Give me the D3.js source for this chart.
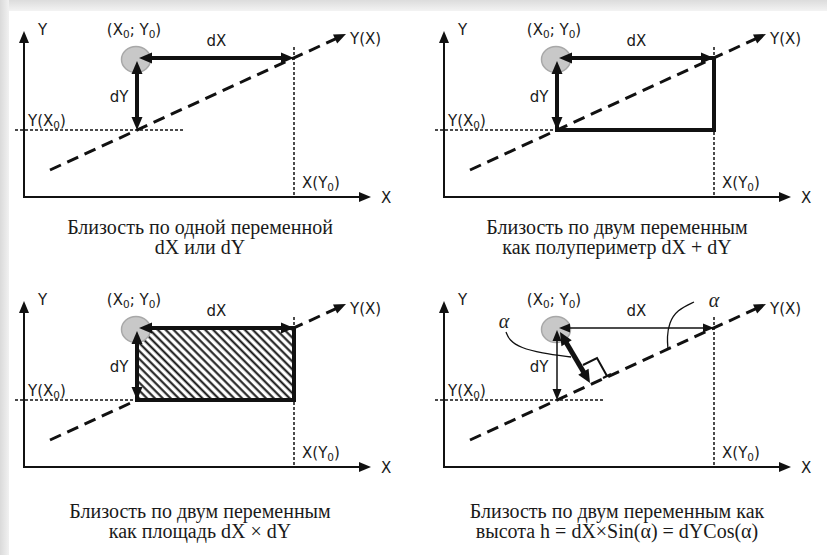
<!DOCTYPE html>
<html><head><meta charset="utf-8">
<script src="https://cdn.jsdelivr.net/npm/d3@7"></script>
<style>body{margin:0;background:#fff}svg{display:block}</style>
</head><body>
<svg id="c" width="827" height="555"></svg>
<script>
// ---------- data ----------
const panelModes = ["single", "perimeter", "area", "height"];
const panelShiftX = [0, 420, 0, 420];
const panelShiftY = [0, 0, 270, 270];
const axisDomainX = [0, 347];
const axisDomainY = [0, 166];
const point0 = [113, 139];          // (X0; Y0)
const yAtX0 = 67;                   // Y(X0)
const xAtY0 = 270;                  // X(Y0)
const trendLine = [[26, 27], [322, 163]];
const guideYExtent = [-9, 159];
const guideXTop = 150;
const hFoot = [146, 84];
const rightAngle = [[139, 102], [153, 109], [163, 91]];
const alphaArc1 = [[62, 135], [65, 127], [77, 119], [97, 114], [127, 110]];
const alphaArc2 = [[250, 165], [233, 157], [225, 144], [223, 130], [224, 118]];
const alphaSpots = [[60, 144], [270, 165]];
const axisNames = ["X", "Y"];
const pointName = "(X₀; Y₀)";
const deltaNames = ["dX", "dY"];
const guideNames = ["Y(X₀)", "X(Y₀)"];
const trendName = "Y(X)";
const captionLine1 = ["Близость по одной переменной", "Близость по двум переменным",
                      "Близость по двум переменным", "Близость по двум переменным как"];
const captionLine2 = ["dX или dY", "как полупериметр dX + dY",
                      "как площадь dX ×  dY", "высота  h = dX×Sin(α) = dYCos(α)"];

// ---------- drawing ----------
const svg = d3.select("#c");
const defs = svg.append("defs");
const gl = defs.append("linearGradient").attr("id", "gl").attr("x1", 0).attr("x2", 1).attr("y1", 0).attr("y2", 0);
gl.append("stop").attr("offset", 0).attr("stop-color", "#dadada");
gl.append("stop").attr("offset", 1).attr("stop-color", "#f1f1f1");
const gt = defs.append("linearGradient").attr("id", "gt").attr("x1", 0).attr("x2", 0).attr("y1", 0).attr("y2", 1);
gt.append("stop").attr("offset", 0).attr("stop-color", "#dcdcdc");
gt.append("stop").attr("offset", 1).attr("stop-color", "#f3f3f3");
const pat = defs.append("pattern").attr("id", "hatch").attr("patternUnits", "userSpaceOnUse")
  .attr("width", 5.6).attr("height", 6).attr("patternTransform", "rotate(-45)");
pat.append("rect").attr("width", 5.6).attr("height", 6).attr("fill", "#fff");
pat.append("line").attr("x1", 1.5).attr("x2", 1.5).attr("y1", 0).attr("y2", 6)
  .attr("stroke", "#111").attr("stroke-width", 2);

svg.append("rect").attr("width", 827).attr("height", 555).attr("fill", "#fff");
svg.append("rect").attr("x", 0).attr("y", 0).attr("width", 827).attr("height", 11).attr("fill", "url(#gt)");
svg.append("rect").attr("x", 0).attr("y", 0).attr("width", 9).attr("height", 555).attr("fill", "url(#gl)");

const INK = "#111";
const SANS = "DejaVu Sans, Verdana, sans-serif";
const SERIF = "Liberation Serif, Times New Roman, serif";

function head(g, tip, from, len, wid) {
  const dx = tip[0] - from[0], dy = tip[1] - from[1];
  const L = Math.hypot(dx, dy), ux = dx / L, uy = dy / L;
  const bx = tip[0] - ux * len, by = tip[1] - uy * len;
  g.append("path").attr("d",
    `M${tip[0]},${tip[1]}L${bx - uy * wid / 2},${by + ux * wid / 2}L${bx + uy * wid / 2},${by - ux * wid / 2}Z`)
    .attr("fill", INK);
}
function arrow(g, p1, p2, sw, len, wid, both) {
  const dx = p2[0] - p1[0], dy = p2[1] - p1[1];
  const L = Math.hypot(dx, dy), ux = dx / L, uy = dy / L;
  const a = both ? [p1[0] + ux * len * 0.8, p1[1] + uy * len * 0.8] : p1;
  const b = [p2[0] - ux * len * 0.8, p2[1] - uy * len * 0.8];
  g.append("line").attr("x1", a[0]).attr("y1", a[1]).attr("x2", b[0]).attr("y2", b[1])
    .attr("stroke", INK).attr("stroke-width", sw);
  head(g, p2, p1, len, wid);
  if (both) head(g, p1, p2, len, wid);
}
function label(g, x, y, str, anchor, size) {
  const t = g.append("text").attr("x", x).attr("y", y).attr("text-anchor", anchor || "start")
    .attr("font-family", SANS).attr("font-size", size || 15).attr("fill", "#1a1a1a");
  const parts = str.split(/(₀)/);
  let low = false;
  parts.forEach(p => {
    if (!p) return;
    if (p === "₀") {
      t.append("tspan").attr("font-size", 10.5).attr("dy", low ? 0 : 3).text("0");
      low = true;
    } else {
      t.append("tspan").attr("dy", low ? -3 : 0).text(p);
      low = false;
    }
  });
}

panelModes.forEach((mode, i) => {
  const ox = panelShiftX[i], oy = panelShiftY[i];
  const sx = d3.scaleLinear().domain(axisDomainX).range([24 + ox, 371 + ox]);
  const sy = d3.scaleLinear().domain(axisDomainY).range([197 + oy, 31 + oy]);
  const P = d3.line().x(d => sx(d[0])).y(d => sy(d[1]));
  const g = svg.append("g");

  // axes
  arrow(g, [sx(0), sy(0) + 1], [sx(0), sy(axisDomainY[1])], 2, 12, 10, false);
  arrow(g, [sx(0) - 1, sy(0)], [sx(axisDomainX[1]), sy(0)], 2, 12, 10, false);

  // dotted guides
  g.append("line").attr("x1", sx(guideYExtent[0])).attr("x2", sx(guideYExtent[1]))
    .attr("y1", sy(yAtX0)).attr("y2", sy(yAtX0))
    .attr("stroke", INK).attr("stroke-width", 1.5).attr("stroke-dasharray", "3,2");
  g.append("line").attr("x1", sx(xAtY0)).attr("x2", sx(xAtY0))
    .attr("y1", sy(guideXTop)).attr("y2", sy(0))
    .attr("stroke", INK).attr("stroke-width", 1.5).attr("stroke-dasharray", "3,2");

  // trend line (dashed) with arrow
  const t0 = [sx(trendLine[0][0]), sy(trendLine[0][1])];
  const t1 = [sx(trendLine[1][0]), sy(trendLine[1][1])];
  const tdx = t1[0] - t0[0], tdy = t1[1] - t0[1], tL = Math.hypot(tdx, tdy);
  g.append("line").attr("x1", t0[0]).attr("y1", t0[1])
    .attr("x2", t1[0] - tdx / tL * 9).attr("y2", t1[1] - tdy / tL * 9)
    .attr("stroke", INK).attr("stroke-width", 3).attr("stroke-dasharray", "12,7");
  head(g, t1, t0, 12, 10);

  const px = sx(point0[0]), py = sy(point0[1]);
  const rx = sx(xAtY0), ry = sy(yAtX0);

  if (mode === "area") {
    g.append("rect").attr("x", px).attr("y", py).attr("width", rx - px).attr("height", ry - py)
      .attr("fill", "url(#hatch)").attr("stroke", INK).attr("stroke-width", 4);
  }
  if (mode === "perimeter") {
    g.append("rect").attr("x", px).attr("y", py).attr("width", rx - px).attr("height", ry - py)
      .attr("fill", "none").attr("stroke", INK).attr("stroke-width", 4);
  }

  // point
  g.append("ellipse").attr("cx", px - 1).attr("cy", py + 1.5).attr("rx", 14.5).attr("ry", 13)
    .attr("fill", "#c8c8c8").attr("stroke", "#a8a8a8").attr("stroke-width", 1.5);

  if (mode === "height") {
    arrow(g, [px + 2, py], [rx, py], 1.5, 11, 9, true);
    arrow(g, [px, py + 2], [px, ry], 1.5, 11, 9, true);
    arrow(g, [px + 3, py + 4], [sx(hFoot[0]), sy(hFoot[1])], 5, 13, 12, true);
    g.append("path").attr("d", P(rightAngle)).attr("fill", "none")
      .attr("stroke", INK).attr("stroke-width", 2);
    const ra = rightAngle[2];
    g.append("line").attr("x1", sx(ra[0]) - 4).attr("x2", sx(ra[0]) + 4)
      .attr("y1", sy(ra[1]) + 2).attr("y2", sy(ra[1]) - 2).attr("stroke", INK).attr("stroke-width", 2);
    const curve = d3.line().x(d => sx(d[0])).y(d => sy(d[1])).curve(d3.curveBasis);
    [alphaArc1, alphaArc2].forEach(a => g.append("path").attr("d", curve(a)).attr("fill", "none")
      .attr("stroke", INK).attr("stroke-width", 1.3));
    alphaSpots.forEach(s => g.append("text").attr("x", sx(s[0])).attr("y", sy(s[1]) + 5)
      .attr("text-anchor", "middle").attr("font-family", SERIF).attr("font-style", "italic")
      .attr("font-size", 20).attr("fill", "#222").text("α"));
  } else {
    arrow(g, [px + 2, py], [rx, py], 4, 13, 11, true);
    arrow(g, [px, py + 3], [px, ry], 4, 13, 11, true);
  }

  // labels
  label(g, sx(0) + 14, sy(axisDomainY[1]) + 4, axisNames[1]);
  label(g, sx(axisDomainX[1]) + 10, sy(0) + 6, axisNames[0]);
  label(g, px - 3, py - 23, pointName, "middle");
  label(g, (px + rx) / 2 + 1, py - 12, deltaNames[0], "middle");
  label(g, px - 18, (py + ry) / 2 + 8, deltaNames[1], "middle");
  label(g, sx(0) + 4, ry - 4, guideNames[0]);
  label(g, rx + 8, sy(0) - 9, guideNames[1]);
  label(g, t1[0] + 4, t1[1] + 10, trendName);

  // captions
  const cx = ox + 200 + (i % 2 ? -3 : 0);
  const cy = i < 2 ? 234 : 518;
  [captionLine1[i], captionLine2[i]].forEach((s, k) => {
    svg.append("text").attr("x", cx).attr("y", cy + k * 20).attr("text-anchor", "middle")
      .attr("font-family", SERIF).attr("font-size", 20).attr("fill", "#1a1a1a").text(s);
  });
});
</script>
</body></html>
